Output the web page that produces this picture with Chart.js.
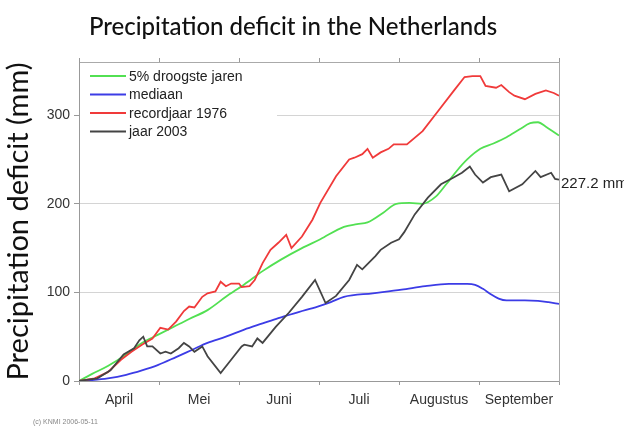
<!DOCTYPE html>
<html>
<head>
<meta charset="utf-8">
<script src="https://cdn.jsdelivr.net/npm/chart.js@4/dist/chart.umd.min.js"></script>
<style>
  html, body { margin: 0; padding: 0; background: #fff; }
  #wrap { width: 624px; height: 427px; }
</style>
</head>
<body>
<div id="wrap"><canvas id="c" width="624" height="427"></canvas></div>
<script>
// Cumulative precipitation deficit (mm), days counted from 1 April.
const monthLabels = ['April', 'Mei', 'Juni', 'Juli', 'Augustus', 'September'];
const yTickValues = [0, 100, 200, 300];

const dryDays = [0, 5, 11, 18, 24, 30, 36, 42, 49, 56, 63, 70, 77, 85, 92, 101, 106, 110, 116, 121, 126, 131, 136, 140, 144, 148, 153, 158, 163, 168, 172, 175, 178, 181, 183];
const dryMm   = [0, 8, 17, 30, 43, 52, 61, 70, 80, 95, 109, 124, 137, 150, 160, 174, 177, 179, 190, 200, 201, 200, 208, 222, 237, 250, 262, 268, 275, 284, 291, 292, 287, 281, 277];

const medianDays = [0, 5, 11, 18, 24, 30, 37, 43, 49, 56, 63, 70, 76, 84, 91, 96, 101, 112, 123, 132, 141, 148, 151, 154, 157, 160, 163, 170, 175, 179, 183];
const medianMm   = [0, 1, 3, 7, 12, 18, 27, 35, 43, 50, 58, 65, 71, 78, 84, 89, 95, 99, 103, 107, 109.5, 109.5, 108.5, 104, 98, 93, 91, 91, 90.5, 89, 87];

const y1976Days = [0, 6, 11, 16, 20, 24, 28, 31, 34, 37, 40, 42, 44, 47, 49, 52, 54, 56, 58, 61, 62, 65, 67, 70, 73, 76, 79, 81, 85, 89, 92, 98, 103, 105, 108, 110, 112, 115, 118, 120, 125, 131, 137, 143, 147, 150, 153, 155, 159, 161, 164, 166, 170, 174, 178, 181, 183];
const y1976Mm   = [0, 3, 10, 24, 33, 41, 48, 60, 58, 67, 79, 84, 83, 95, 99, 101, 112, 107, 110, 110, 106, 107, 114, 133, 148, 156, 165, 150, 163, 182, 201, 231, 250, 252, 256, 262, 252, 258, 262, 267, 267, 282, 305, 328, 343, 344, 344, 333, 331, 334, 326, 322, 318, 324, 328, 325, 322];

const y2003Days = [0, 7, 12, 17, 21, 23, 24.5, 26, 28, 31, 33, 35, 38, 40, 42, 44, 47, 49, 54, 58, 62, 63, 66, 68, 70, 75, 80, 85, 90, 94, 98, 103, 106, 108, 113, 115, 119, 122, 124, 128, 133, 138, 143, 146, 149, 151, 154, 157, 161, 164, 169, 174, 176, 180, 181.5, 183];
const y2003Mm   = [0, 3, 12, 30, 37, 46, 50, 39, 39, 31, 33, 31, 37, 43, 39, 33, 39, 28, 9, 24, 39, 41, 39, 48, 43, 61, 77, 95, 114, 88, 96, 114, 131, 126, 141, 148, 156, 160, 168, 188, 207, 222, 230, 235, 242, 233, 224, 230, 233, 214, 222, 237, 230, 235, 228, 227.2];

const seriesLabels = ['5% droogste jaren', 'mediaan', 'recordjaar 1976', 'jaar 2003'];
const seriesColors = ['#52e052', '#3c3ce6', '#f03a3a', '#444444'];

const toPoints = (days, mm) => days.map((d, i) => ({ x: d, y: mm[i] }));

const TICK_FONT = { family: '"Liberation Sans", Arial, sans-serif', size: 14 };

// Legend box, titles, credit line and end-value label
const annotations = {
  id: 'annotations',
  afterDatasetsDraw(chart) {
    const { ctx, chartArea } = chart;
    ctx.save();
    // legend panel
    ctx.fillStyle = '#ffffff';
    ctx.fillRect(chartArea.left + 1, chartArea.top + 1, 197, 78);
    ctx.font = '14px "Liberation Sans", Arial, sans-serif';
    ctx.textBaseline = 'middle';
    ctx.textAlign = 'left';
    chart.data.datasets.forEach((ds, i) => {
      const y = chartArea.top + 14 + i * 18.5;
      ctx.strokeStyle = ds.borderColor;
      ctx.lineWidth = 2;
      ctx.beginPath();
      ctx.moveTo(chartArea.left + 11, y);
      ctx.lineTo(chartArea.left + 47, y);
      ctx.stroke();
      ctx.fillStyle = '#222';
      ctx.fillText(ds.label, chartArea.left + 50, y + 1);
    });
    // value at the end of the 2003 curve
    const meta = chart.getDatasetMeta(3);
    const last = meta.data[meta.data.length - 1];
    const lastVal = y2003Mm[y2003Mm.length - 1];
    ctx.fillStyle = '#222';
    ctx.font = '15px "Liberation Sans", Arial, sans-serif';
    ctx.fillText(lastVal.toFixed(1) + ' mm', last.x + 2, last.y + 4);
    ctx.restore();
  },
  afterDraw(chart) {
    const { ctx } = chart;
    ctx.save();
    ctx.fillStyle = '#111';
    ctx.textAlign = 'center';
    ctx.textBaseline = 'middle';
    ctx.font = '500 24px Lato, "Open Sans", sans-serif';
    ctx.fillText('Precipitation deficit in the Netherlands', 293, 27);
    ctx.fillStyle = '#888';
    ctx.textAlign = 'left';
    ctx.font = '7px "Liberation Sans", Arial, sans-serif';
    ctx.fillText('(c) KNMI 2006-05-11', 33, 422);
    ctx.restore();
  }
};

new Chart(document.getElementById('c'), {
  type: 'line',
  data: {
    datasets: [
      { label: seriesLabels[0], data: toPoints(dryDays, dryMm), borderColor: seriesColors[0], cubicInterpolationMode: 'monotone', order: 3 },
      { label: seriesLabels[1], data: toPoints(medianDays, medianMm), borderColor: seriesColors[1], cubicInterpolationMode: 'monotone', order: 2 },
      { label: seriesLabels[2], data: toPoints(y1976Days, y1976Mm), borderColor: seriesColors[2], order: 1 },
      { label: seriesLabels[3], data: toPoints(y2003Days, y2003Mm), borderColor: seriesColors[3], order: 0 }
    ]
  },
  options: {
    responsive: false,
    animation: false,
    devicePixelRatio: 1,
    layout: { padding: 0 },
    elements: {
      point: { radius: 0, hoverRadius: 0 },
      line: { borderWidth: 1.8, tension: 0, fill: false }
    },
    plugins: {
      legend: { display: false },
      title: { display: false },
      tooltip: { enabled: false }
    },
    scales: {
      x: { type: 'linear', min: 0, max: 183, display: false },
      xm: {
        type: 'category', labels: monthLabels, position: 'bottom', offset: true,
        grid: { offset: true, drawOnChartArea: false, tickLength: 4, color: '#999' },
        border: { color: '#999' },
        ticks: { color: '#333', font: TICK_FONT, padding: 7, maxRotation: 0 },
        afterFit: s => { s.height = 46; }
      },
      xt: {
        type: 'category', labels: monthLabels, position: 'top', offset: true,
        grid: { offset: true, drawOnChartArea: false, tickLength: 4, color: '#999' },
        border: { color: '#aaa' },
        ticks: { display: false },
        afterFit: s => { s.height = 62; }
      },
      y: {
        type: 'linear', position: 'left', min: 0, max: 360,
        afterBuildTicks: s => { s.ticks = yTickValues.map(v => ({ value: v })); },
        ticks: { color: '#333', font: TICK_FONT, padding: 4 },
        grid: { color: '#d4d4d4', tickColor: '#999', tickLength: 5 },
        border: { color: '#999' },
        title: {
          display: true, text: 'Precipitation deficit (mm)', color: '#111',
          font: { family: 'Lato, "Open Sans", sans-serif', size: 29 },
          padding: { top: 1, bottom: 0 }
        },
        afterFit: s => { s.width = 79; }
      },
      yr: {
        type: 'linear', position: 'right', min: 0, max: 360,
        ticks: { display: false },
        grid: { display: false },
        border: { color: '#aaa' },
        afterFit: s => { s.width = 65; }
      }
    }
  },
  plugins: [annotations]
});
</script>
</body>
</html>
